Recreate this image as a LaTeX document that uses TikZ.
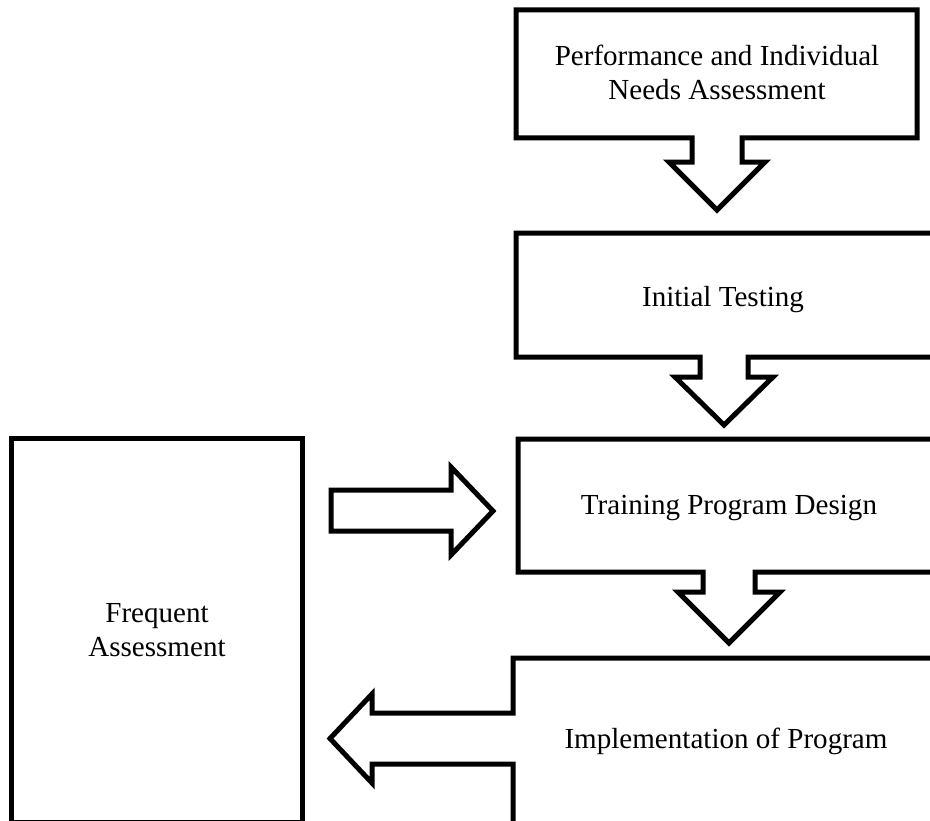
\documentclass[tikz,border=0pt]{standalone}
\usepackage{fontspec}
\setmainfont{Liberation Serif}

\tikzset{
	flowbox/.style={draw=black, fill=white, line width=3.75pt},
	flowtext/.style={align=center, font=\fontsize{21.8}{25.5}\selectfont}
}

\begin{document}
\begin{tikzpicture}[x=0.75pt,y=-0.75pt]

	\useasboundingbox (0,0) rectangle (930,820);
	\clip (0,0) rectangle (930,820);
	\fill[white] (0,0) rectangle (930,820);

	\draw[flowbox] (516,10) -- (917,10) -- (917,138) -- (742,138) -- (742,162) -- (765,162) -- (717,210) -- (669,162) -- (692,162) -- (692,138) -- (516,138) -- cycle;
	\node[flowtext] (perf) at (717,72){Performance and Individual\\Needs Assessment};

	\draw[flowbox] (516,233) -- (945,233) -- (945,357) -- (748,357) -- (748,377) -- (773,377) -- (724,425) -- (675,377) -- (700,377) -- (700,357) -- (516,357) -- cycle;
	\node[flowtext] (init) at (723,300){Initial Testing};

	\draw[flowbox] (518,439) -- (945,439) -- (945,572) -- (755,572) -- (755,592) -- (780,592) -- (729,643) -- (678,592) -- (703,592) -- (703,572) -- (518,572) -- cycle;
	\node[flowtext] (design) at (729,508){Training Program Design};

	\draw[flowbox] (513,658) -- (945,658) -- (945,830) -- (513,830) -- (513,764) -- (372,764) -- (372,783) -- (330,738.5) -- (372,694) -- (372,713) -- (513,713) -- cycle;
	\node[flowtext] (impl) at (726,741){Implementation of Program};

	\draw[flowbox] (11,438) rectangle (302,822);
	\node[flowtext] (freq) at (157,630){Frequent\\Assessment};

	% feedback into the design step
	\draw[flowbox] (331,490) -- (451,490) -- (451,467) -- (493,511) -- (451,555) -- (451,531) -- (331,531) -- cycle;

\end{tikzpicture}
\end{document}
